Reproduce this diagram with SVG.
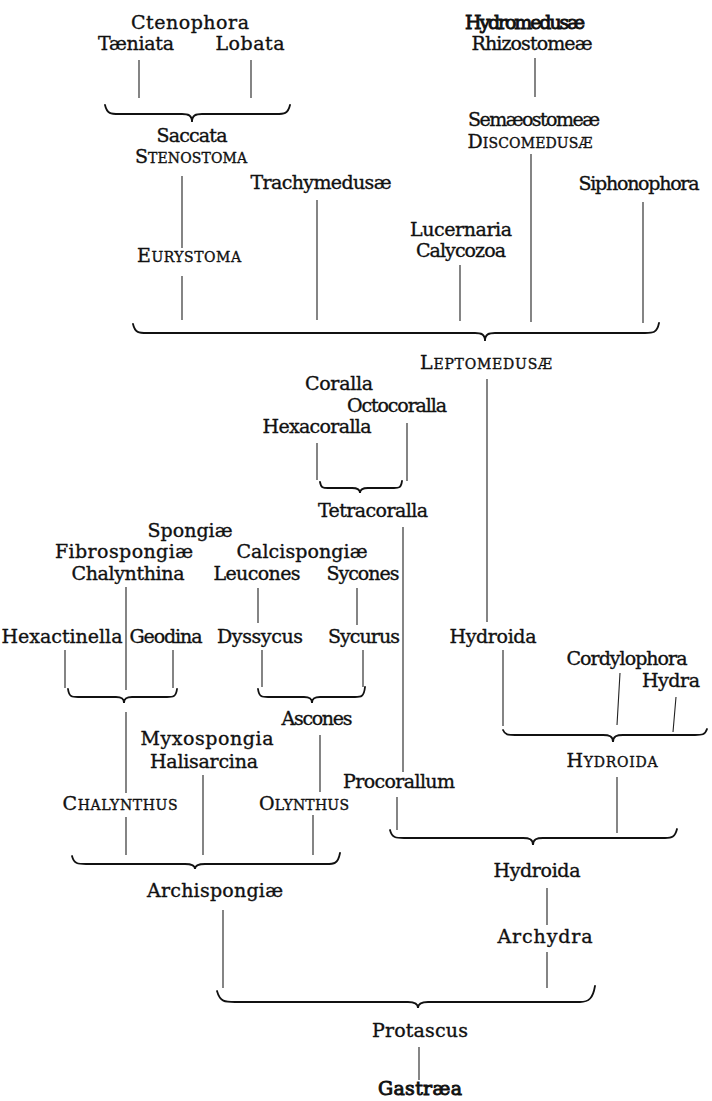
<svg xmlns="http://www.w3.org/2000/svg" width="712" height="1101" viewBox="0 0 712 1101">
<style>
text{font-family:"DejaVu Serif","Liberation Serif",serif;font-size:19px;fill:#111;text-anchor:middle;stroke:#111;stroke-width:0.35}
.sc{font-size:14px}
.b{stroke-width:0.9}
.ln{stroke:#222;stroke-width:1.1;fill:none}
.br{stroke:#111;stroke-width:1.8;fill:none;stroke-linecap:round}
</style>
<rect width="712" height="1101" fill="#fff"/>
<g id="connectors">
<path class="ln" d="M139,60V98M251,60V98"/>
<path class="br" d="M105,105 C107,114 111,114 119,114 L182,114 C188,114 192,115 192,122 C192,115 196,114 202,114 L276,114 C284,114 288,114 290,105"/>
<path class="ln" d="M535,58V97M531,154V322M182,176V248M182,276V320M317,200V320M460,265V321M643,202V323"/>
<path class="br" d="M133,324 C135,333 139,333 147,333 L475,333 C481,333 485,334 485,341 C485,334 489,333 495,333 L645,333 C653,333 657,333 659,323"/>
<path class="ln" d="M487,379V622M317,443V480M407,423V481"/>
<path class="br" d="M320,482 C321,488 323,488 328,488 L352,488 C357,488 360,489 360,493 C360,489 363,488 368,488 L394,488 C399,488 401,488 402,481"/>
<path class="ln" d="M403,527V772M397,797V830M126,587V690M65,650V688M173,650V688M258,588V623M262,650V687M357,588V625M363,650V687"/>
<path class="br" d="M68,689 C69,697 72,697 78,697 L116,697 C121,697 124,698 124,703 C124,698 127,697 132,697 L167,697 C173,697 176,697 177,689"/>
<path class="br" d="M258,689 C259,697 262,697 268,697 L304,697 C309,697 312,698 312,703 C312,698 315,697 320,697 L355,697 C361,697 364,697 365,687"/>
<path class="ln" d="M126,712V793M126,817V855M203,775V855M320,735V792M313,815V855"/>
<path class="br" d="M72,856 C74,864 78,864 86,864 L185,864 C191,864 195,865 195,869 C195,865 199,864 205,864 L326,864 C334,864 338,864 340,853"/>
<path class="ln" d="M223,910V988M503,650V726M620,673L617,725M676,697L673,732"/>
<path class="br" d="M503,730 C505,735 508,735 515,735 L603,735 C609,735 613,736 613,742 C613,736 617,735 623,735 L695,735 C702,735 705,735 707,729"/>
<path class="ln" d="M617,777V833"/>
<path class="br" d="M390,830 C392,838 396,838 404,838 L523,838 C529,838 533,839 533,845 C533,839 537,838 543,838 L665,838 C672,838 675,837 677,829"/>
<path class="ln" d="M547,888V925M547,952V988"/>
<path class="br" d="M217,991 C220,1002 225,1002 235,1002 L408,1002 C414,1002 418,1003 418,1008 C418,1003 422,1002 428,1002 L580,1002 C589,1002 593,998 595,986"/>
<path class="ln" d="M419,1047V1080"/>
</g>
<g id="n-ctenophora"><text x="190" y="29" textLength="118">Ctenophora</text></g>
<g id="n-taeniata"><text x="136" y="50" textLength="76">Tæniata</text></g>
<g id="n-lobata"><text x="250" y="50" textLength="69">Lobata</text></g>
<g id="n-saccata"><text x="192" y="142" textLength="71">Saccata</text></g>
<g id="n-stenostoma"><text x="191" y="163" textLength="112">S<tspan class="sc">TENOSTOMA</tspan></text></g>
<g id="n-eurystoma"><text x="189" y="262" textLength="104">E<tspan class="sc">URYSTOMA</tspan></text></g>
<g id="n-trachymedusae"><text x="321" y="189" textLength="141">Trachymedusæ</text></g>
<g id="n-lucernaria"><text x="461" y="236" textLength="102">Lucernaria</text></g>
<g id="n-calycozoa"><text x="461" y="257" textLength="90">Calycozoa</text></g>
<g id="n-siphonophora"><text x="639" y="190" textLength="121">Siphonophora</text></g>
<g id="n-hydromedusae"><text class="b" x="525" y="29" textLength="120">Hydromedusæ</text></g>
<g id="n-rhizostomeae"><text x="532" y="50" textLength="121">Rhizostomeæ</text></g>
<g id="n-semaeostomeae"><text x="534" y="126" textLength="132">Semæostomeæ</text></g>
<g id="n-discomedusae"><text x="530" y="148" textLength="125">D<tspan class="sc">ISCOMEDUSÆ</tspan></text></g>
<g id="n-leptomedusae"><text x="486" y="369" textLength="132">L<tspan class="sc">EPTOMEDUSÆ</tspan></text></g>
<g id="n-coralla"><text x="339" y="390" textLength="68">Coralla</text></g>
<g id="n-octocoralla"><text x="397" y="412" textLength="100">Octocoralla</text></g>
<g id="n-hexacoralla"><text x="317" y="433" textLength="109">Hexacoralla</text></g>
<g id="n-tetracoralla"><text x="373" y="517" textLength="110">Tetracoralla</text></g>
<g id="n-spongiae"><text x="190" y="537" textLength="85">Spongiæ</text></g>
<g id="n-fibrospongiae"><text x="124" y="558" textLength="138">Fibrospongiæ</text></g>
<g id="n-calcispongiae"><text x="302" y="558" textLength="131">Calcispongiæ</text></g>
<g id="n-chalynthina"><text x="128" y="580" textLength="113">Chalynthina</text></g>
<g id="n-leucones"><text x="257" y="580" textLength="87">Leucones</text></g>
<g id="n-sycones"><text x="363" y="580" textLength="73">Sycones</text></g>
<g id="n-hexactinella"><text x="62" y="643" textLength="121">Hexactinella</text></g>
<g id="n-geodina"><text x="166" y="643" textLength="73">Geodina</text></g>
<g id="n-dyssycus"><text x="260" y="643" textLength="86">Dyssycus</text></g>
<g id="n-sycurus"><text x="364" y="643" textLength="72">Sycurus</text></g>
<g id="n-hydroida1"><text x="493" y="643" textLength="87">Hydroida</text></g>
<g id="n-cordylophora"><text x="627" y="665" textLength="121">Cordylophora</text></g>
<g id="n-hydra"><text x="671" y="687" textLength="58">Hydra</text></g>
<g id="n-hydroida2"><text x="612" y="767" textLength="91">H<tspan class="sc">YDROIDA</tspan></text></g>
<g id="n-ascones"><text x="317" y="725" textLength="71">Ascones</text></g>
<g id="n-myxospongia"><text x="207" y="745" textLength="133">Myxospongia</text></g>
<g id="n-halisarcina"><text x="204" y="768" textLength="108">Halisarcina</text></g>
<g id="n-chalynthus"><text x="120" y="810" textLength="115">C<tspan class="sc">HALYNTHUS</tspan></text></g>
<g id="n-olynthus"><text x="304" y="810" textLength="90">O<tspan class="sc">LYNTHUS</tspan></text></g>
<g id="n-procorallum"><text x="399" y="788" textLength="112">Procorallum</text></g>
<g id="n-archispongiae"><text x="215" y="897" textLength="136">Archispongiæ</text></g>
<g id="n-hydroida3"><text x="537" y="877" textLength="87">Hydroida</text></g>
<g id="n-archydra"><text x="545" y="943" textLength="95">Archydra</text></g>
<g id="n-protascus"><text x="420" y="1037" textLength="96">Protascus</text></g>
<g id="n-gastraea"><text class="b" x="420" y="1095" textLength="84">Gastræa</text></g>
</svg>
